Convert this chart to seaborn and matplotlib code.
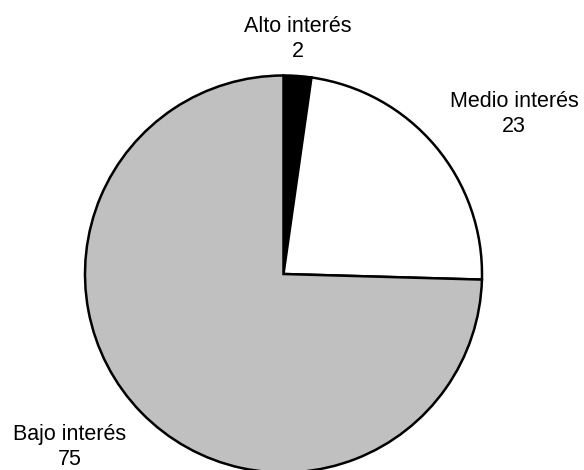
import matplotlib
matplotlib.use("Agg")
import matplotlib.pyplot as plt
import seaborn as sns

sns.set_theme(style="white")
plt.rcParams['font.family'] = ['Liberation Sans', 'DejaVu Sans']

categories = ["Alto interés", "Medio interés", "Bajo interés"]
values = [2.25, 23.2, 74.55]
value_labels = ["2", "23", "75"]
colors = ["#000000", "#ffffff", "#c0c0c0"]
# label centres in figure pixel coordinates (x, y from top)
label_pos = [(298, 39), (514, 114), (70, 447)]

W, H = 584, 470
fig = plt.figure(figsize=(W / 100, H / 100), dpi=100)
cx, cy, r = 283.5, 274, 198.5
ax = fig.add_axes([(cx - r) / W, (H - cy - r) / H, 2 * r / W, 2 * r / H])
ax.pie(values, colors=colors, startangle=90, counterclock=False,
       wedgeprops=dict(edgecolor="black", linewidth=1.8),
       radius=1.0)
ax.set_xlim(-1.0, 1.0)
ax.set_ylim(-1.0, 1.0)
ax.set_aspect("equal")
ax.axis("off")

for cat, lab, (px, py) in zip(categories, value_labels, label_pos):
    fig.text(px / W, 1 - py / H, f"{cat}\n{lab}", ha="center", va="center",
             multialignment="center", fontsize=15.5, color="#000000",
             linespacing=1.3)

fig.savefig("out.png", dpi=100, facecolor="white")
